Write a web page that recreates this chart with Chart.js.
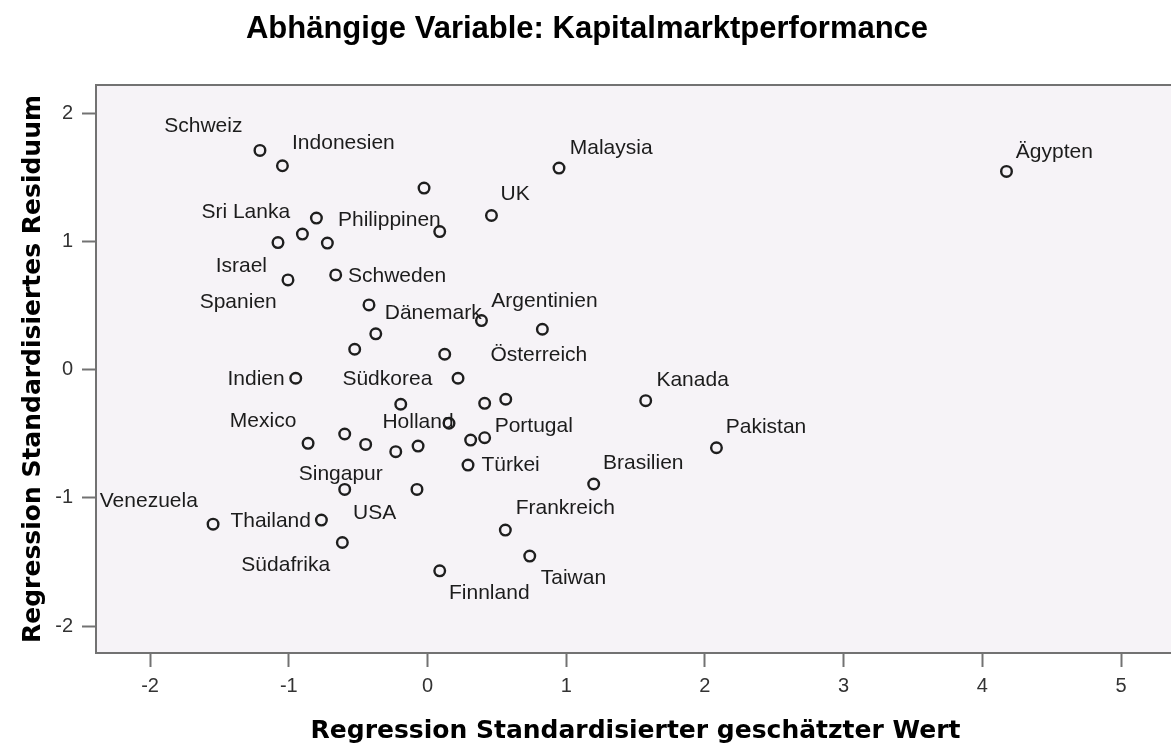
<!DOCTYPE html>
<html>
<head>
<meta charset="utf-8">
<title>Streudiagramm Residuen</title>
<script src="https://cdn.jsdelivr.net/npm/chart.js@4.4.1/dist/chart.umd.min.js"></script>
<style>
  html, body { margin: 0; padding: 0; background: #ffffff; }
</style>
</head>
<body>
<canvas id="residualChart" width="1171" height="744"></canvas>
<script>
// Fallnamen ('' = Punkt ohne Beschriftung)
const countries = [
  'Schweiz', 'Indonesien', '', '', 'Sri Lanka', 'Israel', '', 'Philippinen',
  'Spanien', 'Schweden', '', '', '', 'Österreich', 'Malaysia', 'UK',
  'Dänemark', 'Argentinien', 'Ägypten', 'Indien', 'Südkorea', '', 'Holland', 'Mexico',
  '', '', '', '', 'Singapur', 'USA', 'Venezuela', 'Thailand',
  'Südafrika', 'Finnland', '', '', 'Kanada', 'Portugal', '', 'Türkei',
  'Pakistan', 'Brasilien', 'Frankreich', 'Taiwan'
];

// standardisierter geschätzter Wert (x)
const predicted = [
  -1.208, -1.046, -0.025, -0.801, -0.902, -1.078, -0.722, 0.088,
  -1.006, -0.662, -0.422, -0.373, -0.525, 0.124, 0.948, 0.461,
  0.389, 0.828, 4.174, -0.950, 0.220, -0.193, 0.155, -0.861,
  -0.597, -0.446, -0.229, -0.068, -0.597, -0.076, -1.546, -0.765,
  -0.614, 0.088, 0.412, 0.564, 1.573, 0.412, 0.311, 0.292,
  2.083, 1.198, 0.561, 0.737
];

// standardisiertes Residuum (y)
const residuals = [
  1.710, 1.590, 1.416, 1.182, 1.057, 0.991, 0.987, 1.077,
  0.700, 0.739, 0.505, 0.279, 0.159, 0.120, 1.572, 1.202,
  0.383, 0.315, 1.546, -0.067, -0.067, -0.270, -0.418, -0.575,
  -0.502, -0.583, -0.640, -0.596, -0.934, -0.934, -1.205, -1.173,
  -1.348, -1.569, -0.263, -0.231, -0.242, -0.531, -0.549, -0.744,
  -0.609, -0.892, -1.251, -1.454
];

const xTicks = [-2, -1, 0, 1, 2, 3, 4, 5];
const yTicks = [-2, -1, 0, 1, 2];

// Lage der Beschriftung relativ zum Punkt in Pixeln [dx, dy]
const labelOffsets = [
  [-95.7, -24], [9.6, -22.7], null, null, [-101, -22], [-62.3, 23.3], null, [-101.7, -11.7],
  [-88.3, 22.7], [12.3, 1], null, null, null, [45.7, 0.7], [10.7, -20], [9, -21.4],
  [-96.7, -7.4], [-51, -27.6], [9.3, -19], [-68.3, 0.7], [-115.6, 0.7], null, [-66.6, -0.6], [-78.3, -22.3],
  null, null, null, null, [-46, -15], [-64, 24], [-113.3, -23], [-91, 0.7],
  [-101, 22.7], [9.3, 22.6], null, null, [10.7, -20.7], [10, -12], null, [13.4, 0],
  [9.3, -21], [9.3, -20.7], [10.3, -21.7], [11, 22.3]
];

const chartTitle = 'Abhängige Variable: Kapitalmarktperformance';
const xTitle = 'Regression Standardisierter geschätzter Wert';
const yTitle = 'Regression Standardisiertes Residuum';

const axisColor = '#727272';

// Hintergrund, obere Rahmenlinie, Beschriftungen und Titel
const decorPlugin = {
  id: 'decor',
  beforeDraw(chart) {
    const { ctx, chartArea } = chart;
    ctx.save();
    ctx.fillStyle = '#f6f3f7';
    ctx.fillRect(chartArea.left, chartArea.top, chartArea.right - chartArea.left, chartArea.bottom - chartArea.top);
    ctx.restore();
  },
  afterDraw(chart) {
    const { ctx, chartArea } = chart;
    ctx.save();

    ctx.strokeStyle = axisColor;
    ctx.lineWidth = 2;
    ctx.beginPath();
    ctx.moveTo(chartArea.left, chartArea.top);
    ctx.lineTo(chartArea.right, chartArea.top);
    ctx.stroke();

    // Fallbeschriftungen
    const meta = chart.getDatasetMeta(0);
    ctx.font = '21px "Liberation Sans", Arial, sans-serif';
    ctx.fillStyle = '#1c1c1c';
    ctx.textAlign = 'left';
    ctx.textBaseline = 'middle';
    meta.data.forEach((pt, i) => {
      if (!countries[i] || !labelOffsets[i]) return;
      ctx.fillText(countries[i], pt.x + labelOffsets[i][0], pt.y + labelOffsets[i][1]);
    });

    // Titel
    ctx.fillStyle = '#000000';
    ctx.textAlign = 'center';
    ctx.textBaseline = 'alphabetic';
    ctx.font = 'bold 31px "Liberation Sans", Arial, sans-serif';
    ctx.fillText(chartTitle, 587, 38);

    // Achsentitel
    const midX = (chartArea.left + chartArea.right) / 2;
    const midY = (chartArea.top + chartArea.bottom) / 2;
    ctx.font = 'bold 25px "DejaVu Sans", sans-serif';
    ctx.fillText(xTitle, midX + 2, 738);

    ctx.translate(40, midY);
    ctx.rotate(-Math.PI / 2);
    ctx.fillText(yTitle, 0, 0);
    ctx.restore();
  }
};

const ctx = document.getElementById('residualChart').getContext('2d');
new Chart(ctx, {
  type: 'scatter',
  data: {
    datasets: [{
      data: predicted.map((x, i) => ({ x: x, y: residuals[i] })),
      pointRadius: 5.3,
      pointHoverRadius: 5.3,
      pointBorderWidth: 2.4,
      pointBorderColor: '#1e1e1e',
      pointBackgroundColor: 'rgba(0,0,0,0)'
    }]
  },
  options: {
    responsive: false,
    animation: false,
    events: [],
    layout: { autoPadding: false, padding: { top: 85, left: 0, right: 0, bottom: 0 } },
    plugins: {
      legend: { display: false },
      tooltip: { enabled: false }
    },
    scales: {
      x: {
        type: 'linear',
        min: -2.39,
        max: 5.36,
        afterBuildTicks: scale => { scale.ticks = xTicks.map(v => ({ value: v })); },
        afterFit: scale => {
          scale.height = 91;
          scale.paddingLeft = 0;
          scale.paddingRight = 0;
        },
        grid: { drawOnChartArea: false, drawTicks: true, tickLength: 14, tickWidth: 2, tickColor: axisColor },
        border: { display: true, color: axisColor, width: 2 },
        ticks: {
          maxRotation: 0,
          padding: 7,
          color: '#333333',
          font: { family: '"Liberation Sans", Arial, sans-serif', size: 20 }
        }
      },
      y: {
        type: 'linear',
        min: -2.21,
        max: 2.22,
        afterBuildTicks: scale => { scale.ticks = yTicks.map(v => ({ value: v })); },
        afterFit: scale => {
          scale.width = 96;
          scale.paddingTop = 0;
          scale.paddingBottom = 0;
        },
        grid: { drawOnChartArea: false, drawTicks: true, tickLength: 14, tickWidth: 2, tickColor: axisColor },
        border: { display: true, color: axisColor, width: 2 },
        ticks: {
          padding: 9,
          color: '#333333',
          font: { family: '"Liberation Sans", Arial, sans-serif', size: 20 }
        }
      }
    }
  },
  plugins: [decorPlugin]
});
</script>
</body>
</html>
